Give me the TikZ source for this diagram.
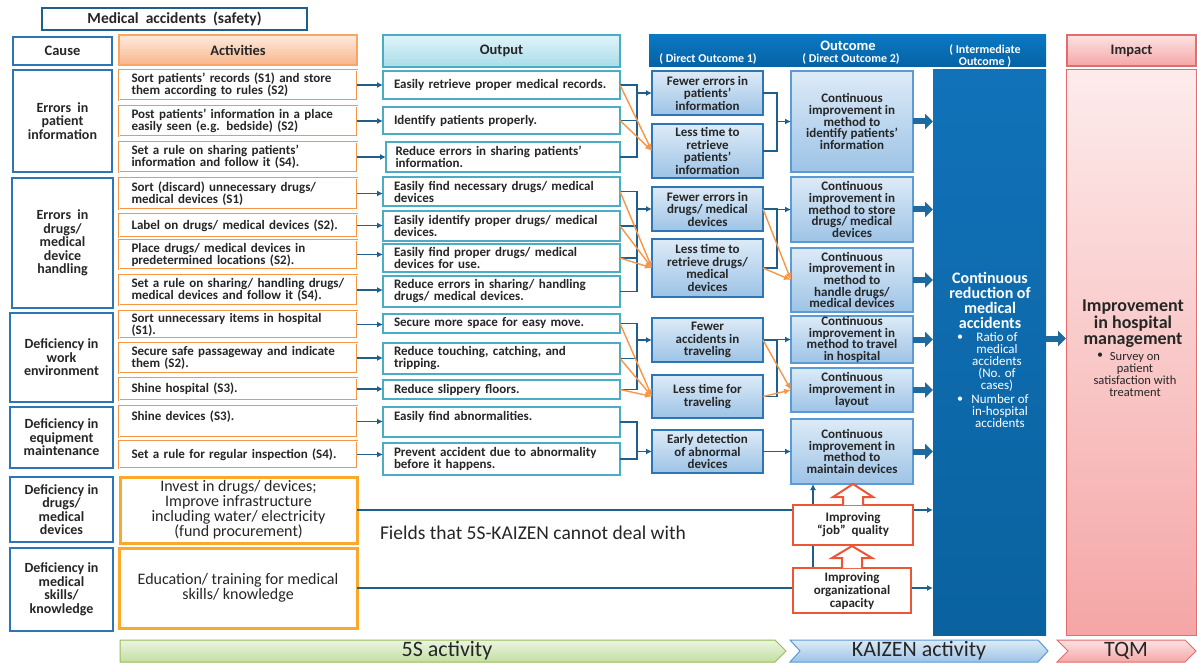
\documentclass[tikz,border=0pt]{standalone}
\usepackage{fontspec}
\setmainfont{Carlito}
\usetikzlibrary{arrows.meta,calc}
\definecolor{navy}{HTML}{1F5F8B}
\definecolor{causeb}{HTML}{2E75B6}
\definecolor{actor}{HTML}{F79646}
\definecolor{tealb}{HTML}{4BACC6}
\definecolor{dob}{HTML}{2E75B6}
\definecolor{eb}{HTML}{5B9BD5}
\definecolor{lbt}{HTML}{DDEBF7}
\definecolor{lbb}{HTML}{9DC3E6}
\definecolor{intt}{HTML}{1172B9}
\definecolor{intb}{HTML}{0A629F}
\definecolor{pkt}{HTML}{FCE3E3}
\definecolor{pkb}{HTML}{F5A6A6}
\definecolor{pkd}{HTML}{E46C6C}
\definecolor{gold}{HTML}{FBA92C}
\definecolor{redo}{HTML}{EE5535}
\definecolor{txt}{HTML}{262626}
\definecolor{gnt}{HTML}{EBF5DF}
\definecolor{gnb}{HTML}{C3DFA3}
\definecolor{gnd}{HTML}{9BBB59}
\definecolor{ort}{HTML}{FDEBDD}
\definecolor{orb}{HTML}{F8B58B}
\definecolor{cyt}{HTML}{E0F4F9}
\definecolor{cyb}{HTML}{A9DCEA}
\definecolor{blk}{HTML}{1E6A9E}
\definecolor{hdt}{HTML}{0A78C2}
\definecolor{hdb}{HTML}{0662A5}
\newcommand\mybox[7]{\node[#1,minimum width={(#5-#3)*1pt},minimum height={(#6-#4)*1pt}] (#2) at ({(#3+#5)/2},{(#4+#6)/2}) {#7};}
\begin{document}
\begin{tikzpicture}[x=1pt,y=-1pt,
 every node/.style={text=txt, inner sep=1pt, outer sep=0pt},
 hfont/.style={font=\fontsize{14.5}{16}\selectfont\bfseries},
 ttlbox/.style={draw=navy, line width=2.5pt, fill=white, font=\fontsize{15.5}{16}\selectfont\bfseries},
 hcause/.style={draw=causeb, line width=2pt, fill=white, hfont},
 hact/.style={draw=actor!85, line width=1.2pt, top color=ort, bottom color=orb, hfont},
 hout/.style={draw=tealb, line width=1.5pt, top color=cyt, bottom color=cyb, hfont},
 houtc/.style={top color=hdt, bottom color=hdb},
 himp/.style={draw=pkd, line width=1.2pt, top color=pkt, bottom color=pkb, hfont},
 cause/.style={draw=causeb, line width=2.5pt, fill=white, align=center, font=\fontsize{14}{13.5}\selectfont\bfseries},
 actbox/.style={draw=actor, double=white, double distance=0.9pt, line width=0.8pt, fill=white, align=left, text width=213pt, font=\fontsize{13}{12}\selectfont\bfseries},
 actbig/.style={draw=gold, line width=3pt, fill=white, align=center, font=\fontsize{16}{15}\selectfont},
 outbox/.style={draw=tealb, line width=1.6pt, fill=white, align=left, text width=215pt, font=\fontsize{13}{12}\selectfont\bfseries},
 dbox/.style={draw=dob, line width=1.6pt, top color=lbt, bottom color=lbb, align=center, font=\fontsize{13}{12.5}\selectfont\bfseries},
 ebox/.style={draw=eb, line width=1.2pt, top color=lbt, bottom color=lbb, align=center, inner ysep=0pt, font=\fontsize{13}{11.6}\selectfont\bfseries},
 interbox/.style={top color=intt, bottom color=intb},
 impbox/.style={draw=pkd, line width=1pt, top color=pkt!70, bottom color=pkb},
 impro/.style={draw=redo, line width=2pt, fill=white, align=center, font=\fontsize{13}{13}\selectfont\bfseries},
 conn/.style={draw=navy, line width=1.5pt, -{Latex[length=6pt,width=6pt]}},
 busl/.style={draw=navy, line width=1.5pt},
 oarr/.style={draw=actor, line width=1.4pt, -{Latex[length=7pt,width=6pt]}},
 blkarr/.style={draw=blk, line width=6pt, -{Triangle[length=8pt,width=15pt]}},
 hollow/.style={draw=redo, line width=2pt, fill=white, line join=miter},
 wt/.style={text=white},
 chevt/.style={font=\fontsize{22}{22}\selectfont, text=txt}
]
\useasboundingbox (0,0) rectangle (1197,663);
\fill[white] (0,0) rectangle (1197,663);

% ---- title and headers
\mybox{ttlbox}{ttl}{42}{8}{307}{30}{Medical\ \ accidents\ \ (safety)}
\mybox{hcause}{hc}{13}{37}{112}{65}{Cause}
\mybox{hact}{ha}{119}{35}{357}{65}{Activities}
\mybox{hout}{ho}{383}{35}{620}{67}{Output}
\mybox{houtc}{hoc}{649}{35}{1046}{67}{}
\mybox{himp}{hi}{1067}{35}{1196}{66}{Impact}
\node[wt, hfont] (toc) at (848,46) {Outcome};
\node[wt, font=\fontsize{12}{12}\selectfont\bfseries] (tdo1) at (708,59) {( Direct Outcome 1)};
\node[wt, font=\fontsize{12}{12}\selectfont\bfseries] (tdo2) at (851,59) {( Direct Outcome 2)};
\node[wt, align=center, font=\fontsize{12}{12}\selectfont\bfseries] (tim) at (985,56) {( Intermediate\\Outcome )};

% ---- causes
\mybox{cause}{c1}{13}{70}{112}{172}{Errors\ \ in\\patient\\information}
\mybox{cause}{c2}{12}{178}{113}{308}{Errors\ \ in\\drugs/\\medical\\device\\handling}
\mybox{cause}{c3}{10}{313}{113}{402}{Deficiency in\\work\\environment}
\mybox{cause}{c4}{10}{407}{113}{468}{Deficiency in\\equipment\\maintenance}
\mybox{cause}{c5}{10}{477}{113}{542}{Deficiency in\\drugs/\\medical\\devices}
\mybox{cause}{c6}{10}{548}{113}{631}{Deficiency in\\medical\\skills/\\knowledge}

% ---- activities
\mybox{actbox}{a1}{119}{70}{357}{100}{Sort patients’ records (S1) and store\\them according to rules (S2)}
\mybox{actbox}{a2}{119}{106}{357}{136}{Post patients’ information in a place\\easily seen (e.g. bedside) (S2)}
\mybox{actbox}{a3}{119}{142}{357}{172}{Set a rule on sharing patients’\\information and follow it (S4).}
\mybox{actbox}{a4}{119}{178}{357}{209}{Sort (discard) unnecessary drugs/\\medical devices (S1)}
\mybox{actbox}{a5}{119}{214}{357}{237}{Label on drugs/ medical devices (S2).}
\mybox{actbox}{a6}{119}{240}{357}{269}{Place drugs/ medical devices in\\predetermined locations (S2).}
\mybox{actbox}{a7}{119}{275}{357}{305}{Set a rule on sharing/ handling drugs/\\medical devices and follow it (S4).}
\mybox{actbox}{a8}{119}{311}{357}{338}{Sort unnecessary items in hospital\\(S1).}
\mybox{actbox}{a9}{119}{343}{357}{373}{Secure safe passageway and indicate\\them (S2).}
\mybox{actbox}{a10}{119}{378}{357}{400}{Shine hospital (S3).}
\mybox{actbox}{a11}{119}{406}{357}{437}{Shine devices (S3).\\\mbox{}}
\mybox{actbox}{a12}{119}{441}{357}{468}{Set a rule for regular inspection (S4).}
\mybox{actbig}{a13}{120}{477}{357}{543}{Invest in drugs/ devices;\\Improve infrastructure\\including water/ electricity\\(fund procurement)}
\mybox{actbig}{a14}{119}{548}{357}{628}{Education/ training for medical\\skills/ knowledge}

% ---- outputs
\mybox{outbox}{o1}{383}{71}{620}{99}{Easily retrieve proper medical records.}
\mybox{outbox}{o2}{383}{107}{620}{134}{Identify patients properly.}
\mybox{outbox}{o3}{386}{142}{620}{172}{Reduce errors in sharing patients’\\information.}
\mybox{outbox}{o4}{383}{177}{620}{206}{Easily find necessary drugs/ medical\\devices}
\mybox{outbox}{o5}{383}{211}{620}{241}{Easily identify proper drugs/ medical\\devices.}
\mybox{outbox}{o6}{383}{244}{620}{272}{Easily find proper drugs/ medical\\devices for use.}
\mybox{outbox}{o7}{383}{276}{620}{307}{Reduce errors in sharing/ handling\\drugs/ medical devices.}
\mybox{outbox}{o8}{383}{314}{620}{333}{Secure more space for easy move.}
\mybox{outbox}{o9}{383}{343}{620}{374}{Reduce touching, catching, and\\tripping.}
\mybox{outbox}{o10}{383}{380}{620}{399}{Reduce slippery floors.}
\mybox{outbox}{o11}{383}{407}{620}{437}{Easily find abnormalities.\\\mbox{}}
\mybox{outbox}{o12}{383}{443}{620}{475}{Prevent accident due to abnormality\\before it happens.}

% ---- direct outcome 1
\mybox{dbox}{d1a}{652}{71}{763}{115}{Fewer errors in\\patients’\\information}
\mybox{dbox}{d1b}{652}{124}{763}{178}{Less time to\\retrieve\\patients’\\information}
\mybox{dbox}{d1c}{652}{187}{763}{231}{Fewer errors in\\drugs/ medical\\devices}
\mybox{dbox}{d1d}{652}{239}{763}{297}{Less time to\\retrieve drugs/\\medical\\devices}
\mybox{dbox}{d1e}{652}{318}{763}{362}{Fewer\\accidents in\\traveling}
\mybox{dbox}{d1f}{652}{375}{763}{418}{Less time for\\traveling}
\mybox{dbox}{d1g}{652}{430}{763}{473}{Early detection\\of abnormal\\devices}

% ---- direct outcome 2
\mybox{ebox}{e1}{791}{71}{913}{172}{Continuous\\improvement in\\method to\\identify patients’\\information}
\mybox{ebox}{e2}{791}{177}{913}{242}{Continuous\\improvement in\\method to store\\drugs/ medical\\devices}
\mybox{ebox}{e3}{791}{248}{913}{312}{Continuous\\improvement in\\method to\\handle drugs/\\medical devices}
\mybox{ebox}{e4}{791}{316}{913}{363}{Continuous\\improvement in\\method to travel\\in hospital}
\mybox{ebox}{e5}{791}{368}{913}{412}{Continuous\\improvement in\\layout}
\mybox{ebox}{e6}{791}{419}{913}{484}{Continuous\\improvement in\\method to\\maintain devices}

% ---- intermediate and impact
\mybox{interbox}{inter}{933}{70}{1046}{635}{}
\mybox{impbox}{imp}{1066}{70}{1196}{635}{}
\node[wt, align=center, font=\fontsize{16}{15}\selectfont\bfseries] (it) at (990,300) {Continuous\\reduction of\\medical\\accidents};
\node[wt, font=\fontsize{12}{12}\selectfont] (ib1) at (960,338) {•};
\node[wt, align=center, font=\fontsize{13}{12.2}\selectfont] (ib1t) at (997,362) {Ratio of\\medical\\accidents\\(No. of\\cases)};
\node[wt, font=\fontsize{12}{12}\selectfont] (ib2) at (960,400) {•};
\node[wt, align=center, font=\fontsize{13}{11.8}\selectfont] (ib2t) at (1000,411) {Number of\\in-hospital\\accidents};
\node[align=center, font=\fontsize{18}{16.5}\selectfont\bfseries] (mt) at (1133,324) {Improvement\\in hospital\\management};
\node[font=\fontsize{12}{12}\selectfont] (mb) at (1100,356) {•};
\node[align=center, font=\fontsize{12.5}{12}\selectfont] (mbt) at (1135,374) {Survey on\\patient\\satisfaction with\\treatment};

% ---- activity -> output
\foreach \i in {1,...,12} {\draw[conn] (a\i.east) -- (a\i.east -| o\i.west);}

% ---- output -> direct outcome 1
\coordinate (bxa) at (637,0);
\coordinate (bxb) at (777,0);
\draw[busl] (o1.east) -- (o1.east -| bxa) -- (o3.east -| bxa) -- (o3.east);
\draw[busl] (o2.east) -- (o2.east -| bxa);
\draw[conn] (d1a.west -| bxa) -- (d1a.west);
\draw[busl] (o4.east) -- (o4.east -| bxa) -- (o7.east -| bxa) -- (o7.east);
\draw[busl] (o5.east) -- (o5.east -| bxa);
\draw[busl] (o6.east) -- (o6.east -| bxa);
\draw[conn] (d1c.west -| bxa) -- (d1c.west);
\draw[busl] (o8.east) -- (o8.east -| bxa) -- (o10.east -| bxa) -- (o10.east);
\draw[busl] (o9.east) -- (o9.east -| bxa);
\draw[conn] (d1e.west -| bxa) -- (d1e.west);
\draw[busl] (o11.east) -- (o11.east -| bxa) -- (o12.east -| bxa) -- (o12.east);
\draw[conn] (d1g.west -| bxa) -- (d1g.west);
\draw[oarr] (o1.east) -- (d1b.west);
\draw[oarr] (o2.east) -- (d1b.west);
\draw[oarr] (o4.east) -- (d1d.west);
\draw[oarr] (o5.east) -- (d1d.west);
\draw[oarr] (o6.east) -- (d1d.west);
\draw[oarr] (o8.east) -- (d1f.west);
\draw[oarr] (o9.east) -- (d1f.west);
\draw[oarr] (o10.east) -- (d1f.west);

% ---- direct outcome 1 -> 2
\draw[busl] (d1a.east) -- (d1a.east -| bxb) -- (d1b.east -| bxb) -- (d1b.east);
\draw[conn] (e1.west -| bxb) -- (e1.west);
\draw[busl] (d1c.east) -- (d1c.east -| bxb) -- (d1d.east -| bxb) -- (d1d.east);
\draw[conn] (e2.west -| bxb) -- (e2.west);
\draw[busl] (d1e.east) -- (d1e.east -| bxb) -- (d1f.east -| bxb) -- (d1f.east);
\draw[conn] (e4.west -| bxb) -- (e4.west);
\draw[conn] (d1g.east) -- (e6.west);
\draw[oarr] (d1c.east) -- (e3.west);
\draw[oarr] (d1d.east) -- (e3.west);
\draw[oarr] (d1e.east) -- (e5.west);
\draw[oarr] (d1f.east) -- (e5.west);

% ---- to intermediate and impact
\foreach \e in {e1,e2,e3,e4,e5,e6} {\draw[blkarr] (\e.east) -- (\e.east -| inter.west);}
\draw[blkarr] ([yshift=14pt]inter.east) -- ([yshift=14pt]inter.east -| imp.west);

% ---- non-5S fields
\coordinate (vx) at (813,0);
\draw[conn] (a13.east) -- (a13.east -| inter.west);
\draw[conn] (a14.east) -- (a14.east -| inter.west);
\draw[conn] (a14.east -| vx) -- (vx |- e6.south);
\node[font=\fontsize{19.5}{21}\selectfont] (fld) at (533,533) {Fields that 5S-KAIZEN cannot deal with};
\mybox{impro}{job}{793}{505}{913}{545}{Improving\\“job”\ \ quality}
\mybox{impro}{org}{793}{568}{911}{613}{Improving\\organizational\\capacity}
\filldraw[hollow] ($(job.north)+(-10,0)$) -- ($(job.north)+(-10,-8)$) -- ($(job.north)+(-20,-8)$) -- ($(job.north)+(0,-21)$) -- ($(job.north)+(20,-8)$) -- ($(job.north)+(10,-8)$) -- ($(job.north)+(10,0)$);
\filldraw[hollow] ($(org.north)+(-10,0)$) -- ($(org.north)+(-10,-10)$) -- ($(org.north)+(-20,-10)$) -- ($(org.north)+(0,-22)$) -- ($(org.north)+(20,-10)$) -- ($(org.north)+(10,-10)$) -- ($(org.north)+(10,0)$);

% ---- bottom chevrons
\draw[top color=gnt, bottom color=gnb, draw=gnd, line width=1pt] (120,640) -- (775,640) -- (786,651) -- (775,662) -- (120,662) -- cycle;
\node[chevt] (t5s) at (447,651) {5S activity};
\draw[top color=lbt, bottom color=lbb, draw=eb, line width=1pt] (790,640) -- (1038,640) -- (1048,651) -- (1038,662) -- (790,662) -- (800,651) -- cycle;
\node[chevt] (tkz) at (919,651) {KAIZEN activity};
\draw[top color=pkt, bottom color=pkb, draw=pkd, line width=1pt] (1057,640) -- (1185,640) -- (1196,651) -- (1185,662) -- (1057,662) -- (1068,651) -- cycle;
\node[chevt] (ttq) at (1126,651) {TQM};
\end{tikzpicture}
\end{document}
